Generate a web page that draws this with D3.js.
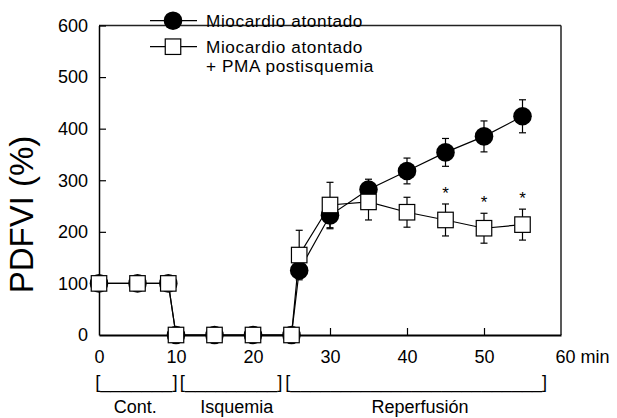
<!DOCTYPE html>
<html>
<head>
<meta charset="utf-8">
<script src="https://cdn.jsdelivr.net/npm/d3@7"></script>
<style>
  html, body { margin: 0; padding: 0; background: #fff; }
  svg { display: block; font-family: "Liberation Sans", Arial, Helvetica, sans-serif; }
</style>
</head>
<body>
<svg id="chart" width="617" height="418"></svg>
<script>
// ---- data ----
const minutes = [0, 5, 9, 10, 15, 20, 25, 26, 30, 35, 40, 45, 50, 55];
const stunned = [100, 100, 100, 0, 0, 0, 0, 125, 232, 282, 318, 354, 385, 424];
const stunnedErr = [0, 0, 0, 0, 0, 0, 0, 12, 26, 20, 25, 27, 30, 32];
const stunnedPMA = [100, 100, 100, 0, 0, 0, 0, 155, 252, 258, 238, 223, 207, 214];
const stunnedPMAErr = [0, 0, 0, 0, 0, 0, 0, 48, 44, 35, 29, 31, 29, 30];
const significantAt = [45, 50, 55];
const xTicks = [0, 10, 20, 30, 40, 50, 60];
const xTickLabels = ["0", "10", "20", "30", "40", "50", "60 min"];
const yTicks = [0, 100, 200, 300, 400, 500, 600];
const legendLines = ["Miocardio atontado", "Miocardio atontado", "+ PMA postisquemia"];
const phaseNames = ["Cont.", "Isquemia", "Reperfusión"];
const phaseFrom = [-0.5, 10.5, 24.2];
const phaseTo = [10.2, 23.8, 58.2];
const phaseLabelAt = [4.7, 17.9, 41.7];
const phaseUnderscores = [7, 9, 25];
const yTitle = "PDFVI (%)";

// ---- layout ----
const svg = d3.select("#chart");
const x = d3.scaleLinear().domain([0, 60]).range([99, 561]);
const y = d3.scaleLinear().domain([0, 600]).range([335, 25.5]);

const s1 = minutes.map((m, i) => ({ m, v: stunned[i], e: stunnedErr[i] }));
const s2 = minutes.map((m, i) => ({ m, v: stunnedPMA[i], e: stunnedPMAErr[i] }));

// frame (top and right)
svg.append("line").attr("x1", x(0)).attr("x2", x(60)).attr("y1", y(600)).attr("y2", y(600))
  .attr("stroke", "#222").attr("stroke-width", 1.3);
svg.append("line").attr("x1", x(60)).attr("x2", x(60)).attr("y1", y(600)).attr("y2", y(0))
  .attr("stroke", "#222").attr("stroke-width", 1.5);

// axes
const xAxis = d3.axisBottom(x).tickValues(xTicks)
  .tickFormat((d, i) => xTickLabels[i]).tickSizeInner(-7).tickSizeOuter(0).tickPadding(15);
const gx = svg.append("g").attr("transform", `translate(0,${y(0)})`).call(xAxis);
gx.select(".domain").attr("stroke", "#000").attr("stroke-width", 1.8);
gx.selectAll(".tick line").attr("stroke", "#000").attr("stroke-width", 1.2)
  .attr("display", d => (d === 0 || d === 60) ? "none" : null);
gx.selectAll(".tick text").attr("font-size", 18).attr("fill", "#000")
  .attr("font-family", "Liberation Sans, Arial, sans-serif")
  .attr("text-anchor", d => d === 60 ? "start" : "middle")
  .attr("dx", d => d === 60 ? -6 : 0);

const yAxis = d3.axisLeft(y).tickValues(yTicks).tickSizeInner(-7).tickSizeOuter(0).tickPadding(11);
const gy = svg.append("g").attr("transform", `translate(${x(0)},0)`).call(yAxis);
gy.select(".domain").attr("stroke", "#000").attr("stroke-width", 1.5);
gy.selectAll(".tick line").attr("stroke", "#000").attr("stroke-width", 1.2)
  .attr("display", d => d === 0 ? "none" : null);
gy.selectAll(".tick text").attr("font-size", 18).attr("fill", "#000")
  .attr("font-family", "Liberation Sans, Arial, sans-serif");

// y title
svg.append("text").attr("transform", `translate(33,${214.5}) rotate(-90)`)
  .attr("text-anchor", "middle").attr("font-size", 33).attr("fill", "#000").text(yTitle);

// lines
const line = d3.line().x(d => x(d.m)).y(d => y(d.v));
svg.append("path").datum(s1).attr("d", line).attr("fill", "none").attr("stroke", "#000").attr("stroke-width", 1.2);
svg.append("path").datum(s2).attr("d", line).attr("fill", "none").attr("stroke", "#000").attr("stroke-width", 1.2);

// error bars
function errorBars(data) {
  const g = svg.append("g").attr("stroke", "#000").attr("stroke-width", 1.2);
  const d2 = data.filter(d => d.e > 0);
  g.selectAll("line.v").data(d2).join("line")
    .attr("x1", d => x(d.m)).attr("x2", d => x(d.m))
    .attr("y1", d => y(d.v + d.e)).attr("y2", d => y(d.v - d.e));
  g.selectAll("line.t").data(d2).join("line")
    .attr("x1", d => x(d.m) - 3.5).attr("x2", d => x(d.m) + 3.5)
    .attr("y1", d => y(d.v + d.e)).attr("y2", d => y(d.v + d.e));
  g.selectAll("line.b").data(d2).join("line")
    .attr("x1", d => x(d.m) - 3.5).attr("x2", d => x(d.m) + 3.5)
    .attr("y1", d => y(d.v - d.e)).attr("y2", d => y(d.v - d.e));
}
errorBars(s1);
errorBars(s2);

// markers
svg.append("g").selectAll("circle").data(s1).join("circle")
  .attr("cx", d => x(d.m)).attr("cy", d => y(d.v)).attr("r", 9.3).attr("fill", "#000");
const sq = 15.5;
svg.append("g").selectAll("rect").data(s2).join("rect")
  .attr("x", d => x(d.m) - sq / 2).attr("y", d => y(d.v) - sq / 2)
  .attr("width", sq).attr("height", sq)
  .attr("fill", "#fff").attr("stroke", "#000").attr("stroke-width", 1.2);

// significance asterisks
svg.append("g").selectAll("text").data(s2.filter(d => significantAt.includes(d.m))).join("text")
  .attr("x", d => x(d.m)).attr("y", d => y(d.v + d.e) - 5)
  .attr("text-anchor", "middle").attr("font-size", 17).attr("fill", "#000").text("*");

// legend
const lx1 = 150, lx2 = 197, lxc = 173;
svg.append("line").attr("x1", lx1).attr("x2", lx2).attr("y1", 20.7).attr("y2", 20.7).attr("stroke", "#000").attr("stroke-width", 1.2);
svg.append("circle").attr("cx", lxc).attr("cy", 20.7).attr("r", 9.3).attr("fill", "#000");
svg.append("line").attr("x1", lx1).attr("x2", lx2).attr("y1", 46.7).attr("y2", 46.7).attr("stroke", "#000").attr("stroke-width", 1.2);
svg.append("rect").attr("x", lxc - sq / 2).attr("y", 46.7 - sq / 2).attr("width", sq).attr("height", sq)
  .attr("fill", "#fff").attr("stroke", "#000").attr("stroke-width", 1.2);
const legendBaselines = [27, 52.5, 72];
svg.append("g").selectAll("text").data(legendLines).join("text")
  .attr("x", 206).attr("y", (d, i) => legendBaselines[i])
  .attr("font-size", 17.2).attr("letter-spacing", 0.6).attr("fill", "#000").text(d => d);

// phase brackets
phaseNames.forEach((name, i) => {
  const a = x(phaseFrom[i]), b = x(phaseTo[i]);
  svg.append("text").attr("x", a).attr("y", 388)
    .attr("font-size", 18).attr("fill", "#000")
    .attr("textLength", b - a).attr("lengthAdjust", "spacingAndGlyphs")
    .text("[" + "_".repeat(phaseUnderscores[i]) + "]");
  svg.append("text").attr("x", x(phaseLabelAt[i])).attr("y", 413)
    .attr("text-anchor", "middle").attr("font-size", 18).attr("fill", "#000").text(name);
});
</script>
</body>
</html>
